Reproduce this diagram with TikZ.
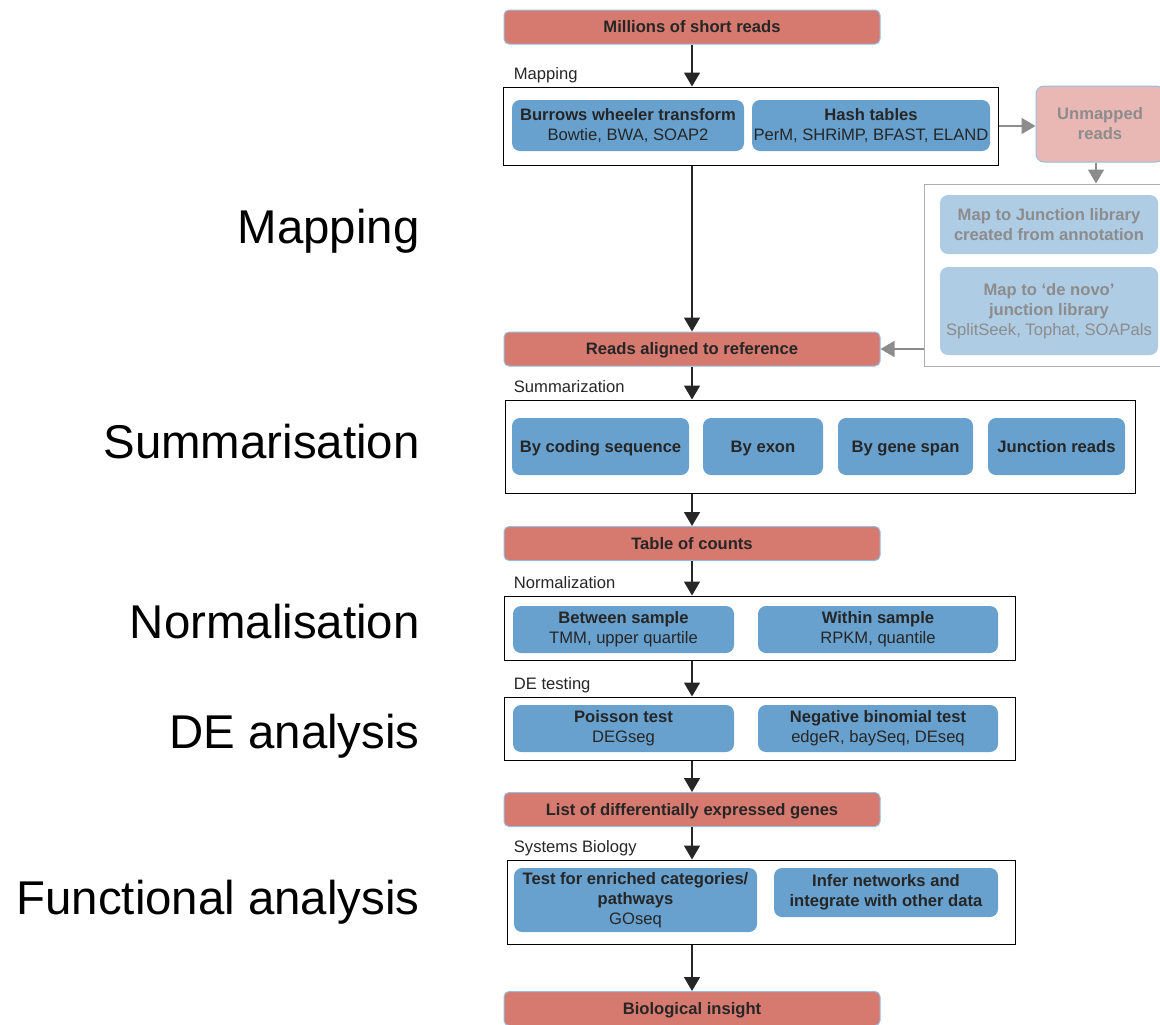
\documentclass[tikz,border=0pt]{standalone}
\usepackage{fontspec}
\setmainfont{Liberation Sans}
\usetikzlibrary{arrows.meta,positioning}
\definecolor{rnared}{RGB}{214,121,111}
\definecolor{rnablue}{RGB}{104,161,206}
\definecolor{rnapink}{RGB}{233,184,181}
\definecolor{rnapale}{RGB}{175,204,229}
\definecolor{rnaedge}{RGB}{150,190,225}
\definecolor{rnaink}{RGB}{38,38,38}
\definecolor{rnagray}{RGB}{140,140,140}

\newcommand{\boxfont}{\fontsize{8.3}{10}\selectfont}
\newcommand{\sidefont}{\fontsize{23.7}{28}\selectfont}

\begin{document}
\begin{tikzpicture}[x=0.5pt,y=-0.5pt,
  stage/.style={draw=rnaedge,line width=0.5pt,fill=rnared,rounded corners=2.5pt,minimum width=188pt,minimum height=17pt,inner sep=0pt,font=\boxfont\bfseries,text=rnaink,text height=6.6pt,text depth=1pt},
  tool/.style={fill=rnablue,rounded corners=4pt,inner sep=0pt,align=center,font=\boxfont,text=rnaink},
  single/.style={tool,font=\boxfont\bfseries,minimum height=28.5pt,text height=6.6pt,text depth=1pt},
  faded/.style={fill=rnapale,rounded corners=4pt,inner sep=0pt,align=center,font=\boxfont,text=rnagray},
  group/.style={draw=black,line width=0.5pt,inner sep=0pt},
  grplabel/.style={font=\boxfont,text=rnaink,inner sep=0pt,anchor=base west},
  side/.style={font=\sidefont,inner sep=0pt,anchor=base east},
  flow/.style={-{Triangle[width=8pt,length=7pt]},line width=0.75pt,rnaink},
  skip/.style={-{Triangle[width=8pt,length=7pt]},line width=0.75pt,rnagray}]
  \useasboundingbox (0,0) rectangle (1160,1024);

  % side captions
  \node[side] (capmap) at (420,243) {Mapping};
  \node[side] (capsum) at (420,458) {Summarisation};
  \node[side] (capnorm) at (420,638) {Normalisation};
  \node[side] (capde) at (420,748) {DE analysis};
  \node[side] (capfun) at (420,914) {Functional analysis};

  % main stages
  \node[stage] (reads) at (692,27) {Millions of short reads};
  \node[stage] (aligned) at (692,349) {Reads aligned to reference};
  \node[stage] (counts) at (692,543.5) {Table of counts};
  \node[stage] (degenes) at (692,809.5) {List of differentially expressed genes};
  \node[stage] (insight) at (692,1008.5) {Biological insight};

  % mapping
  \node[group,minimum width=247.5pt,minimum height=39pt] (mapbox) at (750.5,126) {};
  \node[grplabel] (maplbl) at ([xshift=5.5pt,yshift=3.5pt]mapbox.north west) {Mapping};
  \node[tool,minimum width=116pt,minimum height=25.5pt] (bwt) at (628,125.5)
    {\textbf{Burrows wheeler transform}\\Bowtie, BWA, SOAP2};
  \node[tool,minimum width=119pt,minimum height=25.5pt] (hash) at (871,125.5)
    {\textbf{Hash tables}\\PerM, SHRiMP, BFAST, ELAND};

  % unmapped branch
  \node[draw=rnaedge,line width=0.5pt,fill=rnapink,rounded corners=4pt,inner sep=0pt,minimum width=64pt,minimum height=38pt,align=center,font=\boxfont\bfseries,text=rnagray] (unmapped) at (1100,124) {Unmapped\\reads};
  \node[draw=rnagray!70,line width=0.5pt,inner sep=0pt,minimum width=125pt,minimum height=91pt] (jbox) at (1049,275) {};
  \node[faded,minimum width=109pt,minimum height=29.5pt] (annot) at (1049,224.5)
    {\textbf{Map to Junction library}\\\textbf{created from annotation}};
  \node[faded,minimum width=109pt,minimum height=44pt] (denovo) at (1049,311)
    {\textbf{Map to ‘de novo’}\\\textbf{junction library}\\SplitSeek, Tophat, SOAPals};

  % summarization
  \node[group,minimum width=315pt,minimum height=46.5pt] (sumbox) at (820,446.5) {};
  \node[grplabel] (sumlbl) at ([xshift=4.5pt,yshift=3.5pt]sumbox.north west) {Summarization};
  \node[single,minimum width=88.5pt] (cds) at (600.5,446.5) {By coding sequence};
  \node[single,minimum width=60pt] (exon) at (763,446.5) {By exon};
  \node[single,minimum width=67.5pt] (span) at (905.5,446.5) {By gene span};
  \node[single,minimum width=68.5pt] (jreads) at (1056.5,446.5) {Junction reads};

  % normalization
  \node[group,minimum width=255.5pt,minimum height=32pt] (normbox) at (759.5,628) {};
  \node[grplabel] (normlbl) at ([xshift=5pt,yshift=3.5pt]normbox.north west) {Normalization};
  \node[tool,minimum width=110.5pt,minimum height=23.5pt] (between) at (623.5,629.5)
    {\textbf{Between sample}\\TMM, upper quartile};
  \node[tool,minimum width=120pt,minimum height=23.5pt] (within) at (878,629.5)
    {\textbf{Within sample}\\RPKM, quantile};

  % DE testing
  \node[group,minimum width=255.5pt,minimum height=31.5pt] (debox) at (759.5,728.5) {};
  \node[grplabel] (delbl) at ([xshift=5pt,yshift=3.5pt]debox.north west) {DE testing};
  \node[tool,minimum width=110.5pt,minimum height=23.5pt] (poisson) at (623.5,728.5)
    {\textbf{Poisson test}\\DEGseg};
  \node[tool,minimum width=120pt,minimum height=23.5pt] (negbin) at (878,728.5)
    {\textbf{Negative binomial test}\\edgeR, baySeq, DEseq};

  % systems biology
  \node[group,minimum width=254pt,minimum height=42pt] (sbbox) at (761,902) {};
  \node[grplabel] (sblbl) at ([xshift=3.5pt,yshift=3.5pt]sbbox.north west) {Systems Biology};
  \node[tool,minimum width=121.5pt,minimum height=32pt] (enrich) at (635.5,900)
    {\textbf{Test for enriched categories/}\\\textbf{pathways}\\GOseq};
  \node[tool,minimum width=112pt,minimum height=24.5pt] (infer) at (886,892.5)
    {\textbf{Infer networks and}\\\textbf{integrate with other data}};

  % connectors
  \draw[flow] (reads.south) -- (reads.south |- mapbox.north);
  \draw[flow] (aligned.north |- mapbox.south) -- (aligned.north);
  \draw[flow] (aligned.south) -- (aligned.south |- sumbox.north);
  \draw[flow] (counts.north |- sumbox.south) -- (counts.north);
  \draw[flow] (counts.south) -- (counts.south |- normbox.north);
  \draw[flow] (counts.south |- normbox.south) -- (counts.south |- debox.north);
  \draw[flow] (degenes.north |- debox.south) -- (degenes.north);
  \draw[flow] (degenes.south) -- (degenes.south |- sbbox.north);
  \draw[flow] (insight.north |- sbbox.south) -- (insight.north);

  \draw[skip] (mapbox.east) -- (unmapped.west |- mapbox.east);
  \draw[skip] (unmapped.south -| 1096,0) -- (jbox.north -| 1096,0);
  \draw[skip] (jbox.west |- aligned.east) -- (aligned.east);
\end{tikzpicture}
\end{document}
